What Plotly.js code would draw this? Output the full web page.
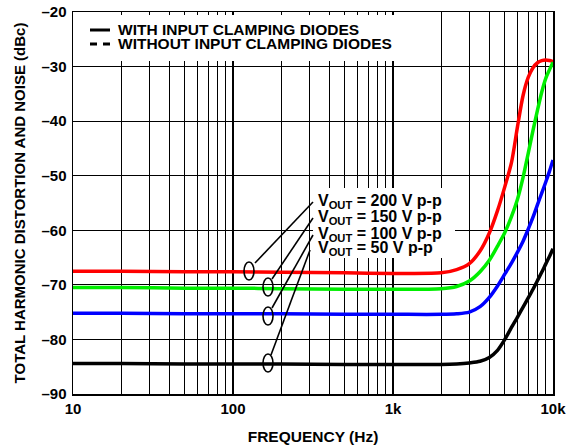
<!DOCTYPE html>
<html>
<head>
<meta charset="utf-8">
<script src="https://cdn.plot.ly/plotly-3.0.1.min.js"></script>
<style>html,body{margin:0;padding:0;background:#fff;}#chart{width:575px;height:445px;}</style>
</head>
<body>
<div id="chart"></div>
<script>
// ---- data ----
const freqHz = [10, 20, 50, 100, 200, 500, 1000, 2000, 2500, 3000, 3500, 4000, 4500, 5000, 5500, 6000, 6500, 7000, 7500, 8000, 8500, 9000, 9500, 10000];
const thd200 = [-67.5, -67.5, -67.6, -67.6, -67.7, -67.8, -67.9, -67.8, -67.2, -66.1, -63.8, -60.5, -56.4, -52.0, -47.6, -41.0, -35.3, -32.0, -30.2, -29.3, -28.9, -28.8, -28.9, -29.1];
const thd150 = [-70.5, -70.5, -70.6, -70.6, -70.7, -70.8, -70.8, -70.7, -70.3, -69.3, -67.6, -65.5, -62.9, -60.4, -57.5, -54.3, -50.3, -45.9, -41.7, -38.0, -34.7, -32.2, -30.6, -29.2];
const thd100 = [-75.2, -75.2, -75.3, -75.3, -75.3, -75.4, -75.4, -75.4, -75.3, -75.0, -74.0, -72.3, -70.2, -68.0, -66.0, -64.0, -62.0, -59.8, -57.6, -55.3, -53.2, -51.2, -49.2, -47.1];
const thd50  = [-84.4, -84.4, -84.5, -84.5, -84.5, -84.6, -84.6, -84.6, -84.5, -84.3, -84.0, -83.3, -82.0, -80.0, -77.8, -75.9, -74.1, -72.4, -70.8, -69.2, -67.7, -66.2, -64.8, -63.4];
const seriesNames = ['V<sub>OUT</sub> = 200 V p-p', 'V<sub>OUT</sub> = 150 V p-p', 'V<sub>OUT</sub> = 100 V p-p', 'V<sub>OUT</sub> = 50 V p-p'];
const legendLabels = ['WITH INPUT CLAMPING DIODES', 'WITHOUT INPUT CLAMPING DIODES'];
const xTickVals = [10,20,30,40,50,60,70,80,90,100,200,300,400,500,600,700,800,900,1000,2000,3000,4000,5000,6000,7000,8000,9000,10000];
const xTickText = ['10','','','','','','','','','100','','','','','','','','','1k','','','','','','','','','10k'];
const yTickVals = [-90,-80,-70,-60,-50,-40,-30,-20];
const yTickText = ['\u201390','\u201380','\u201370','\u201360','\u201350','\u201340','\u201330','\u201320'];

// ---- layout helpers (pixel -> paper) ----
const L = 73, R = 553, T = 12, B = 394;
const px = x => (x - L) / (R - L);
const py = y => (B - y) / (B - T);

const FONT = 'Liberation Sans, Arial, Helvetica, sans-serif';
const colors = ['#ff0000', '#00ee00', '#0000ff', '#000000'];
const ys = [thd200, thd150, thd100, thd50];

const traces = ys.map((y, i) => ({
  x: freqHz, y: y, type: 'scatter', mode: 'lines', name: seriesNames[i],
  line: {color: colors[i], width: 3.5, shape: 'spline', smoothing: 0.8},
  showlegend: false, hoverinfo: 'skip'
}));

const shapes = [];
// legend background box (hides the grid behind the legend)
shapes.push({type:'rect', xref:'paper', yref:'paper', x0:px(75), x1:px(405), y0:py(61), y1:py(15),
  fillcolor:'#fff', line:{width:0}, layer:'above'});
// label background box
shapes.push({type:'rect', xref:'paper', yref:'paper', x0:px(313), x1:px(455), y0:py(258), y1:py(188),
  fillcolor:'#fff', line:{width:0}, layer:'above'});
// legend line samples
shapes.push({type:'line', xref:'paper', yref:'paper', x0:px(90), x1:px(110), y0:py(30), y1:py(30), line:{color:'#000', width:3}});
shapes.push({type:'line', xref:'paper', yref:'paper', x0:px(90), x1:px(110), y0:py(44), y1:py(44), line:{color:'#000', width:3, dash:'7px,6px'}});
// ellipses and leader lines
const ell = [[249,271],[268,287],[268,316],[268,363]];
const lead = [[255,263,313,202],[272,279,313,218],[272,308,313,235],[271,355,310,250]];
ell.forEach(e => shapes.push({type:'circle', xref:'paper', yref:'paper', x0:px(e[0]-5), x1:px(e[0]+5), y0:py(e[1]+9), y1:py(e[1]-9), line:{color:'#000', width:1.6}}));
lead.forEach(l => shapes.push({type:'line', xref:'paper', yref:'paper', x0:px(l[0]), y0:py(l[1]), x1:px(l[2]), y1:py(l[3]), line:{color:'#000', width:1.6}}));

const annotations = [];
legendLabels.forEach((t, i) => annotations.push({text:t, xref:'paper', yref:'paper', x:px(116), y:py(i===0?30:44), xanchor:'left', yanchor:'middle', showarrow:false, font:{family:FONT, size:15.5, color:'#000', weight:'bold'}}));
const labelY = [201, 217, 234, 249];
seriesNames.forEach((t, i) => annotations.push({text:t, xref:'paper', yref:'paper', x:px(316), y:py(labelY[i]), xanchor:'left', yanchor:'middle', showarrow:false, font:{family:FONT, size:16, color:'#000', weight:'bold'}}));

const axisCommon = {
  showline:true, mirror:true, linecolor:'#000', linewidth:1.5,
  showgrid:true, gridcolor:'#000', gridwidth:1.2, zeroline:false,
  ticks:'', tickfont:{family:FONT, size:15, color:'#000', weight:'bold'}
};

const layout = {
  width:575, height:445,
  margin:{l:L, r:575-R, t:T, b:445-B},
  paper_bgcolor:'#fff', plot_bgcolor:'#fff',
  showlegend:false,
  xaxis: Object.assign({}, axisCommon, {
    type:'log', range:[1, 4], tickmode:'array', tickvals:xTickVals, ticktext:xTickText,
    ticklabelstandoff:0,
    title:{text:'FREQUENCY (Hz)', font:{family:FONT, size:15.5, color:'#000', weight:'bold'}, standoff:16}
  }),
  yaxis: Object.assign({}, axisCommon, {
    range:[-90, -20], tickmode:'array', tickvals:yTickVals, ticktext:yTickText,
    ticklabelstandoff:2,
    title:{text:'TOTAL HARMONIC DISTORTION AND NOISE (dBc)', font:{family:FONT, size:15, color:'#000', weight:'bold'}, standoff:12}
  }),
  shapes: shapes,
  annotations: annotations
};

Plotly.newPlot('chart', traces, layout, {staticPlot:true, displayModeBar:false});
</script>
</body>
</html>
